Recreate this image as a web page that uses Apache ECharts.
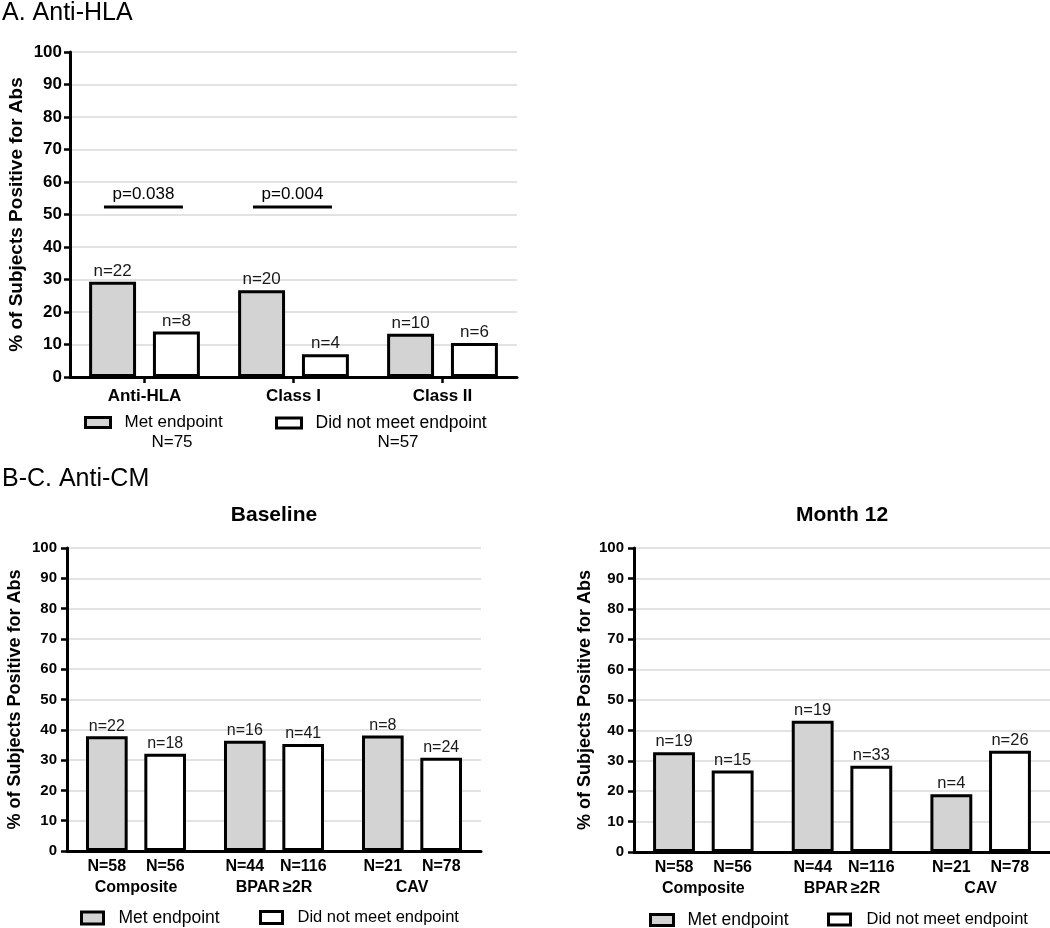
<!DOCTYPE html>
<html><head><meta charset="utf-8">
<script src="https://cdn.jsdelivr.net/npm/echarts@6/dist/echarts.min.js"></script>
<style>html,body{margin:0;padding:0;background:#fff}#c{width:1050px;height:928px}</style>
</head><body><div id="c"></div>
<script>
// ---------- Panel A: Anti-HLA ----------
const hlaCategories = ['Anti-HLA', 'Class I', 'Class II'];
const hlaMetPct = [29.3, 26.7, 13.3];
const hlaNotPct = [14.0, 7.0, 10.5];
const hlaMetN = [22, 20, 10];
const hlaNotN = [8, 4, 6];
const hlaTotals = [75, 57];
const pCategories = ['Anti-HLA', 'Class I'];
const pLevels = [52.3, 52.3];
const pLabels = ['p=0.038', 'p=0.004'];

// ---------- Panels B-C: Anti-CM ----------
const cmCategories = ['Composite', 'BPAR\u2009\u22652R', 'CAV'];
const cmMetTotals = [58, 44, 21];
const cmNotTotals = [56, 116, 78];
const baseMetPct = [37.9, 36.4, 38.1];
const baseNotPct = [32.1, 35.3, 30.8];
const baseMetN = [22, 16, 8];
const baseNotN = [18, 41, 24];
const m12MetPct = [32.8, 43.2, 19.0];
const m12NotPct = [26.8, 28.4, 33.3];
const m12MetN = [19, 19, 4];
const m12NotN = [15, 33, 26];

const seriesNames = ['Met endpoint', 'Did not meet endpoint'];
const yTitle = '% of Subjects Positive for Abs';

const FONT = "'Liberation Sans', Arial, Helvetica, sans-serif";
const GRAY = '#d3d3d3';

function yAxis(gi, fs, nameFs, nameGap, margin) {
  return {
    type: 'value', gridIndex: gi, min: 0, max: 100, interval: 10,
    name: yTitle, nameLocation: 'middle', nameRotate: 90, nameGap: nameGap,
    nameTextStyle: { fontSize: nameFs, fontWeight: 'bold', color: '#000', fontFamily: FONT },
    axisLine: { show: true, lineStyle: { color: '#000', width: 3 } },
    axisTick: { show: true, length: 6, lineStyle: { color: '#000', width: 2.5 } },
    axisLabel: { fontSize: fs, fontWeight: 'bold', color: '#000', margin: margin, fontFamily: FONT },
    splitLine: { show: true, lineStyle: { color: '#d9d9d9', width: 1.5 } }
  };
}

function bar(name, gi, data, counts, fill, width, gap, fs) {
  return {
    name: name, type: 'bar', xAxisIndex: gi, yAxisIndex: gi, data: data,
    barWidth: width, barGap: gap,
    itemStyle: { color: fill, borderColor: '#000', borderWidth: 3 },
    label: {
      show: true, position: 'top', distance: 2, fontSize: fs, color: '#1a1a1a', fontFamily: FONT,
      formatter: p => 'n=' + counts[p.dataIndex]
    },
    emphasis: { disabled: true }
  };
}

function legend(name, left, top, w, h, fs, pad) {
  return {
    data: [name], left: left, top: top, padding: 0, itemWidth: w, itemHeight: h,
    icon: 'rect', selectedMode: false,
    itemStyle: { borderColor: '#000', borderWidth: 3 },
    textStyle: { fontSize: fs, color: '#000', fontFamily: FONT, padding: [0, 0, 0, pad] }
  };
}

function cmXAxis(gi) {
  return {
    type: 'category', gridIndex: gi, data: cmCategories,
    axisLine: { show: true, lineStyle: { color: '#000', width: 3 } },
    axisTick: { show: false },
    axisLabel: {
      interval: 0, margin: 5,
      formatter: (v, i) => '{n|N=' + cmMetTotals[i] + '}{n|N=' + cmNotTotals[i] + '}\n{c|' + v + '}',
      rich: {
        n: { width: 58.5, align: 'center', fontSize: 16, fontWeight: 'bold', color: '#000', lineHeight: 21, fontFamily: FONT },
        c: { fontSize: 16, fontWeight: 'bold', color: '#000', lineHeight: 21, fontFamily: FONT }
      }
    }
  };
}

const chart = echarts.init(document.getElementById('c'), null, { renderer: 'canvas' });

const option = {
  animation: false,
  backgroundColor: '#fff',
  textStyle: { fontFamily: FONT },
  grid: [
    { left: 70, top: 52, width: 447, height: 325 },
    { left: 67, top: 548, width: 414, height: 303 },
    { left: 634, top: 548, width: 416, height: 304 }
  ],
  xAxis: [
    {
      type: 'category', gridIndex: 0, data: hlaCategories,
      axisLine: { show: true, lineStyle: { color: '#000', width: 3 } },
      axisTick: { show: true, alignWithLabel: true, length: 6, lineStyle: { color: '#000', width: 2.5 } },
      axisLabel: { interval: 0, margin: 11, fontSize: 17, fontWeight: 'bold', color: '#000', fontFamily: FONT }
    },
    cmXAxis(1),
    cmXAxis(2)
  ],
  yAxis: [
    yAxis(0, 17, 19, 44, 8),
    yAxis(1, 15, 18, 43, 10),
    yAxis(2, 15, 18, 40, 10)
  ],
  legend: [
    legend(seriesNames[0], 84, 414, 25, 10, 17, 9),
    legend(seriesNames[1], 275, 414, 25, 10, 17.5, 9),
    legend(seriesNames[0], 80, 909, 22, 12, 17.5, 10),
    legend(seriesNames[1], 259, 909, 22, 12, 16.5, 10),
    legend(seriesNames[0], 649, 911, 23, 11, 17.5, 9),
    legend(seriesNames[1], 827, 911, 22, 11, 16.5, 11)
  ],
  graphic: [
    { type: 'text', x: 2, y: 13, style: { text: 'A. Anti-HLA', fontSize: 25, fill: '#000', fontFamily: FONT, textVerticalAlign: 'middle', verticalAlign: 'middle' } },
    { type: 'text', x: 2, y: 479, style: { text: 'B-C. Anti-CM', fontSize: 25, fill: '#000', fontFamily: FONT, textVerticalAlign: 'middle', verticalAlign: 'middle' } },
    { type: 'text', x: 274, y: 515, style: { text: 'Baseline', fontSize: 21, fontWeight: 'bold', fill: '#000', fontFamily: FONT, textAlign: 'center', align: 'center', textVerticalAlign: 'middle', verticalAlign: 'middle' } },
    { type: 'text', x: 842, y: 515, style: { text: 'Month 12', fontSize: 21, fontWeight: 'bold', fill: '#000', fontFamily: FONT, textAlign: 'center', align: 'center', textVerticalAlign: 'middle', verticalAlign: 'middle' } },
    { type: 'text', x: 172, y: 442, style: { text: 'N=' + hlaTotals[0], fontSize: 17, fill: '#000', fontFamily: FONT, textAlign: 'center', align: 'center', textVerticalAlign: 'middle', verticalAlign: 'middle' } },
    { type: 'text', x: 398, y: 442, style: { text: 'N=' + hlaTotals[1], fontSize: 17, fill: '#000', fontFamily: FONT, textAlign: 'center', align: 'center', textVerticalAlign: 'middle', verticalAlign: 'middle' } }
  ],
  series: [
    bar(seriesNames[0], 0, hlaMetPct, hlaMetN, GRAY, '31.5%', '36%', 17),
    bar(seriesNames[1], 0, hlaNotPct, hlaNotN, '#fff', '31.5%', '36%', 17),
    bar(seriesNames[0], 1, baseMetPct, baseMetN, GRAY, '30.2%', '40%', 16),
    bar(seriesNames[1], 1, baseNotPct, baseNotN, '#fff', '30.2%', '40%', 16),
    bar(seriesNames[0], 2, m12MetPct, m12MetN, GRAY, '30.2%', '40%', 16.5),
    bar(seriesNames[1], 2, m12NotPct, m12NotN, '#fff', '30.2%', '40%', 16.5),
    {
      type: 'custom', xAxisIndex: 0, yAxisIndex: 0, z: 5, silent: true,
      data: pCategories.map((c, i) => [hlaCategories.indexOf(c), pLevels[i]]),
      renderItem: function (params, api) {
        const pt = api.coord([api.value(0), api.value(1)]);
        const bw = api.size([1, 0])[0];
        const x1 = pt[0] - bw * 0.272, x2 = pt[0] + bw * 0.258;
        return {
          type: 'group', children: [
            { type: 'line', shape: { x1: x1, y1: pt[1], x2: x2, y2: pt[1] }, style: { stroke: '#000', lineWidth: 3 } },
            { type: 'text', style: { text: pLabels[params.dataIndex], x: (x1 + x2) / 2, y: pt[1] - 4, textAlign: 'center', align: 'center', textVerticalAlign: 'bottom', verticalAlign: 'bottom', fontSize: 17, fill: '#000', fontFamily: FONT } }
          ]
        };
      }
    }
  ]
};
chart.setOption(option);
</script>
</body></html>
